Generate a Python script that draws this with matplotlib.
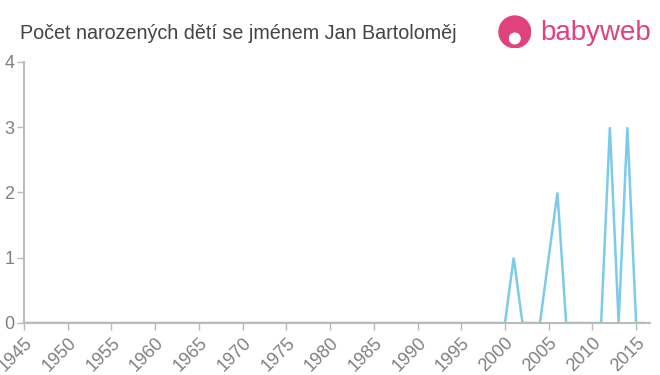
import matplotlib
matplotlib.use("Agg")
import matplotlib.pyplot as plt
from matplotlib.patches import Circle

plt.rcParams["font.family"] = ["Liberation Sans", "DejaVu Sans"]

# ── Data ────────────────────────────────────────────────────────────────
years = list(range(1945, 2017))
births_by_year = {2001: 1, 2005: 1, 2006: 2, 2012: 3, 2014: 3}
counts = [births_by_year.get(y, 0) for y in years]

x_ticks = list(range(1945, 2016, 5))
y_ticks = [0, 1, 2, 3, 4]

TITLE = "Počet narozených dětí se jménem Jan Bartoloměj"
LINE_COLOR = "#7dcbea"
AXIS_COLOR = "#bbbbbb"
LABEL_COLOR = "#808080"

fig = plt.figure(figsize=(6.6, 3.75), dpi=100)
ax = fig.add_axes([0.0364, 0.1387, 0.9486, 0.696])

ax.plot(years, counts, color=LINE_COLOR, lw=1.8, solid_joinstyle="miter")

ax.set_xlim(1945, 2016.6)
ax.set_ylim(0, 4)
ax.set_xticks(x_ticks)
ax.set_xticklabels([str(t) for t in x_ticks], rotation=45, ha="right",
                   rotation_mode="anchor")
ax.set_yticks(y_ticks)

for side in ("top", "right"):
    ax.spines[side].set_visible(False)
for side in ("left", "bottom"):
    ax.spines[side].set_color(AXIS_COLOR)
    ax.spines[side].set_linewidth(1.5)

ax.tick_params(axis="both", colors=AXIS_COLOR, labelcolor=LABEL_COLOR,
               labelsize=13, length=5, width=1)
ax.tick_params(axis="x", pad=3)
ax.tick_params(axis="y", pad=2)

fig.text(0.03, 0.91, TITLE, fontsize=14.2, color="#444444", va="center")

# babyweb logo
logo = fig.add_axes([0.755, 0.865, 0.05, 0.1])
logo.set_xlim(0, 1)
logo.set_ylim(0, 1)
logo.set_aspect("equal")
logo.axis("off")
logo.add_patch(Circle((0.5, 0.5), 0.48, color="#e0417f"))
logo.add_patch(Circle((0.5, 0.3), 0.16, color="white"))
fig.text(0.818, 0.912, "babyweb", fontsize=20, color="#e0417f", va="center")

fig.savefig("out.png", dpi=100)
